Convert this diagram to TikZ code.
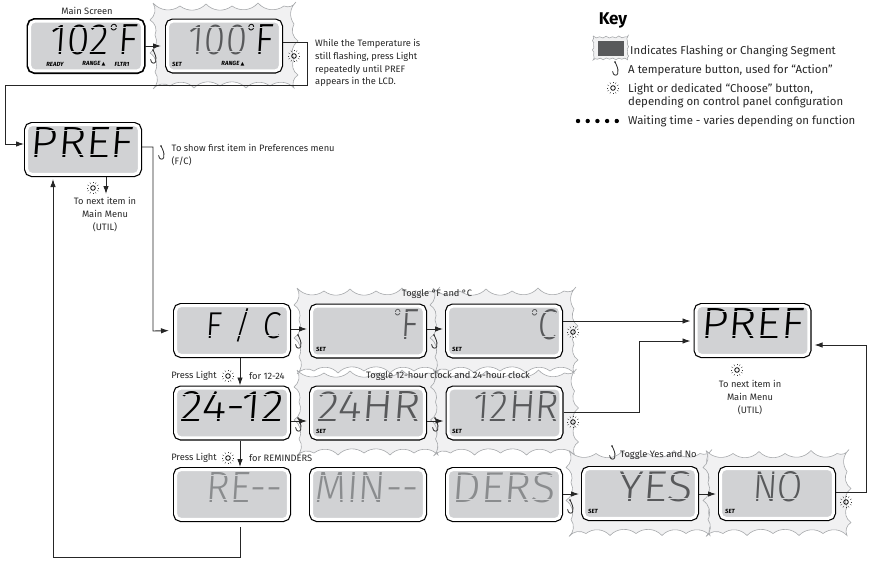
\documentclass[tikz,border=0pt]{standalone}
\usepackage{fontspec}
\usetikzlibrary{arrows.meta}
\setmainfont{Fira Sans}
\newfontfamily\lcdfont[FakeSlant=0.07]{Fira Sans Light}
\newfontfamily\markfont{DejaVu Sans}
\definecolor{lcdgray}{HTML}{D1D2D4}
\definecolor{burstgray}{HTML}{F1F1F2}
\definecolor{edgegray}{HTML}{A7A9AC}
\definecolor{flashink}{HTML}{58595B}
\definecolor{dimink}{HTML}{8A8C8E}
\newcommand{\lcdtxt}[3]{\makebox[112.6pt][r]{\raisebox{-8pt}[0pt][0pt]{\resizebox{#2pt}{30pt}{\lcdfont #3}}\hspace{#1pt}}}
\newcommand{\lcddeg}{\raisebox{.34em}{\scalebox{.5}{°}}\hspace{-.05em}}
\tikzset{
  lcd/.style={shape=rectangle,rounded corners=5pt,inner sep=0pt,outer sep=2.7pt,
    minimum width=112.6pt,minimum height=49.6pt,fill=lcdgray,draw=white,line width=3pt,
    preaction={draw=black,line width=5.4pt}},
  mainlcd/.style={lcd,preaction={draw=black,line width=6.4pt}},
  burstline/.style={fill=burstgray,draw=edgegray,line width=.6pt,bend right=42},
  burstshape/.pic={\draw[burstline] (-71,-43) to (-44,-40) to (-18,-42) to (8,-40) to (34,-43) to (60,-40)
      to (72,-44) to (70,-22) to (74,-5) to (70,13) to (74,29) to (70,42)
      to (46,40) to (22,42) to (-4,40) to (-30,42) to (-54,40) to (-71,43)
      to (-69,26) to (-74,7) to (-69,-11) to (-74,-26) to (-71,-43);},
  gap/.style={draw=lcdgray,line width=.8pt},
  link/.style={draw=black!85,line width=.9pt},
  arrow/.style={link,-{Latex[length=8pt,width=5.5pt]}},
  txt/.style={font=\fontsize{9.3}{12.8}\selectfont,inner sep=0pt,align=left,text=black!85},
  keytxt/.style={txt,font=\fontsize{11.4}{13.2}\selectfont},
  seglabel/.style={font=\bfseries\itshape\fontsize{6}{6}\selectfont,inner sep=0pt},
  hookicon/.pic={\draw[black!85,line width=.8pt,line cap=round]
      (-1,-7) -- (0,-5) .. controls (1.8,-1) and (2.6,2) .. (1.8,4.5)
      .. controls (1,7) and (-3,7) .. (-3.4,2.5);
    \fill[black!85] (-1,-7) circle (.9pt);},
  sunicon/.pic={\draw[black,line width=.8pt] (0,0) circle (2.3pt);
    \foreach \a in {0,30,...,330}
      \draw[black!80,line width=.35pt] (\a:4.6) -- (\a:6.3);},
}
\begin{document}
\begin{tikzpicture}[x=1pt,y=-1pt]
  \useasboundingbox (0,0) rectangle (869,560);
  % bursts behind the displays
  \foreach \x/\y in {224/46,368/331,504/331,368/413,504.5/413,640/493.5,777/493.5}
    \pic at (\x,\y) {burstshape};
  \pic[xscale=.245,yscale=.28] at (610.5,48) {burstshape};

  % displays
  \node[mainlcd] (main) at (86,46) {\lcdtxt{5.3}{87}{102\lcddeg F}};
  \node[lcd] (flash) at (224,46) {\lcdtxt{7.3}{85}{\color{flashink}100\color{black}\lcddeg F}};
  \node[lcd] (pref) at (83,149.5) {\lcdtxt{6.3}{103}{PREF}};
  \node[lcd] (fc) at (232,330.5) {\lcdtxt{7.3}{75}{F\hspace{.35em}/\hspace{.35em}C}};
  \node[lcd] (fahr) at (368,331) {\lcdtxt{6.3}{25}{\color{flashink}\lcddeg F}};
  \node[lcd] (cels) at (504,331) {\lcdtxt{3.3}{27}{\color{flashink}\lcddeg C}};
  \node[lcd] (prefb) at (752.5,330.5) {\lcdtxt{5.3}{103}{PREF}};
  \node[lcd] (wide) at (232,413) {\lcdtxt{5.3}{103}{24-12}};
  \node[lcd] (hrs) at (368,413) {\lcdtxt{4.3}{103}{\color{flashink}24HR}};
  \node[lcd] (ampm) at (504.5,413) {\lcdtxt{2.3}{86}{\color{flashink}12HR}};
  \node[lcd] (remi) at (232,494.5) {\lcdtxt{6.3}{76}{\color{dimink}RE-{}-}};
  \node[lcd] (mins) at (368,494.5) {\lcdtxt{6.3}{103}{\color{dimink}MIN-{}-}};
  \node[lcd] (ders) at (504,494.5) {\lcdtxt{5.3}{103}{\color{dimink}DERS}};
  \node[lcd] (yes) at (640,493.5) {\lcdtxt{4.3}{74}{\color{flashink}YES}};
  \node[lcd] (nope) at (777,493.5) {\lcdtxt{31.3}{50}{\color{flashink}NO}};
  % breaks between the segments
  \foreach \n in {main,flash,pref,fc,fahr,cels,prefb,wide,hrs,ampm,remi,mins,ders,yes,nope} {
    \draw[gap] ([shift={(-52,-19)}]\n.center) -- ([shift={(52,-19)}]\n.center);
    \draw[gap] ([shift={(-52,5)}]\n.center) -- ([shift={(52,5)}]\n.center);
  }

  % small legends in the displays
  \node[seglabel] (ready) at (55,64) {READY};
  \node[seglabel] (rangea) at (94,64) {RANGE \markfont\tiny▲};
  \node[seglabel] (filter) at (122,64) {FLTR1};
  \node[seglabel] (seta) at (177,64) {SET};
  \node[seglabel] (rangeb) at (233,64) {RANGE \markfont\tiny▲};
  \foreach \n/\x/\y in {setb/321/349,setc/457/349,setd/321/431,sete/457/431,setf/593/511,setg/730/511}
    \node[seglabel] (\n) at (\x,\y) {SET};

  % connectors
  \draw[arrow,shorten >=4pt] (main.east) -- (flash.west);
  \draw[arrow] (flash.east |- 0,42) -- (307,42) -- (307,85) -- (5,85) -- (5,144) -- (pref.west |- 0,144);
  \draw[arrow,shorten >=4pt] (pref.east |- 0,147) -- (153,147) -- (153,331) -- (fc.west);
  \draw[arrow] (pref.south -| 106,0) -- (106,194);
  \draw[arrow,shorten >=2pt] (fc.east |- 0,329) -- (fahr.west |- 0,329);
  \draw[arrow,shorten >=2pt] (fahr.east |- 0,329) -- (cels.west |- 0,329);
  \draw[arrow,shorten >=3pt] (cels.east |- 0,321) -- (prefb.west |- 0,321);
  \draw[arrow,shorten >=3pt] (ampm.east |- 0,412) -- (639,412) -- (639,341) -- (prefb.west |- 0,341);
  \draw[arrow] (fc.south -| 240,0) -- (wide.north -| 240,0);
  \draw[arrow,shorten >=2pt] (wide.east |- 0,421) -- (hrs.west |- 0,421);
  \draw[arrow,shorten >=2pt] (hrs.east |- 0,421) -- (ampm.west |- 0,421);
  \draw[arrow] (wide.south -| 240,0) -- (remi.north -| 240,0);
  \draw[arrow,shorten >=2pt] (ders.east |- 0,494) -- (yes.west |- 0,494);
  \draw[arrow,shorten >=2pt] (yes.east |- 0,494) -- (nope.west |- 0,494);
  \draw[arrow,shorten >=3pt] (nope.east |- 0,492) -- (866,492) -- (866,345) -- (prefb.east |- 0,345);
  \draw[arrow,shorten <=5pt,shorten >=2pt] (remi.south -| 240,0) -- (240,557) -- (53,557) -- (53,177);

  % buttons
  \foreach \x/\y in {154/57,162/153,299/342,435/342,299/425,436/425,571/507,613/453,616/69}
    \pic at (\x,\y) {hookicon};
  \foreach \x/\y in {294/56,93/188,573/332,573/422,228/376,228/458,737/370,846/502,613/88}
    \pic at (\x,\y) {sunicon};

  % captions
  \node[txt] (title) at (87,11) {Main Screen};
  \node[txt,anchor=north west] (whilenote) at (315,39) {While the Temperature is\\still flashing, press Light\\repeatedly until PREF\\appears in the LCD.};
  \node[txt,anchor=north west] (shownote) at (171.5,144) {To show first item in Preferences menu\\(F/C)};
  \node[txt,align=center,anchor=north] (nexta) at (105,197) {To next item in\\Main Menu\\(UTIL)};
  \node[txt,align=center,anchor=north] (nextb) at (750,380) {To next item in\\Main Menu\\(UTIL)};
  \node[txt] (togglea) at (437,294) {Toggle °F and °C};
  \node[txt] (toggleb) at (448,376) {Toggle 12-hour clock and 24-hour clock};
  \node[txt,anchor=west] (togglec) at (620,455) {Toggle Yes and No};
  \node[txt,anchor=east] (pressa) at (217,376) {Press Light};
  \node[txt,anchor=west] (fora) at (249,376) {for 12-24};
  \node[txt,anchor=east] (pressb) at (217,458) {Press Light};
  \node[txt,anchor=west] (forb) at (249,458) {for REMINDERS};

  % key
  \node[font=\bfseries\fontsize{17}{20}\selectfont,inner sep=0pt] (keyhead) at (613,20) {Key};
  \node[fill=flashink,minimum width=26pt,minimum height=15pt,inner sep=0pt] (keybox) at (611,48.5) {};
  \node[keytxt,anchor=west] (keya) at (630,51) {Indicates Flashing or Changing Segment};
  \node[keytxt,anchor=west] (keyb) at (628,70) {A temperature button, used for “Action”};
  \node[keytxt,anchor=north west] (keyc) at (628,83) {Light or dedicated “Choose” button,\\depending on control panel configuration};
  \node[keytxt,anchor=west] (keyd) at (628,121) {Waiting time - varies depending on function};
  \foreach \x in {578,587.7,...,618}
    \fill (\x,121) circle (2.2pt);
\end{tikzpicture}
\end{document}
